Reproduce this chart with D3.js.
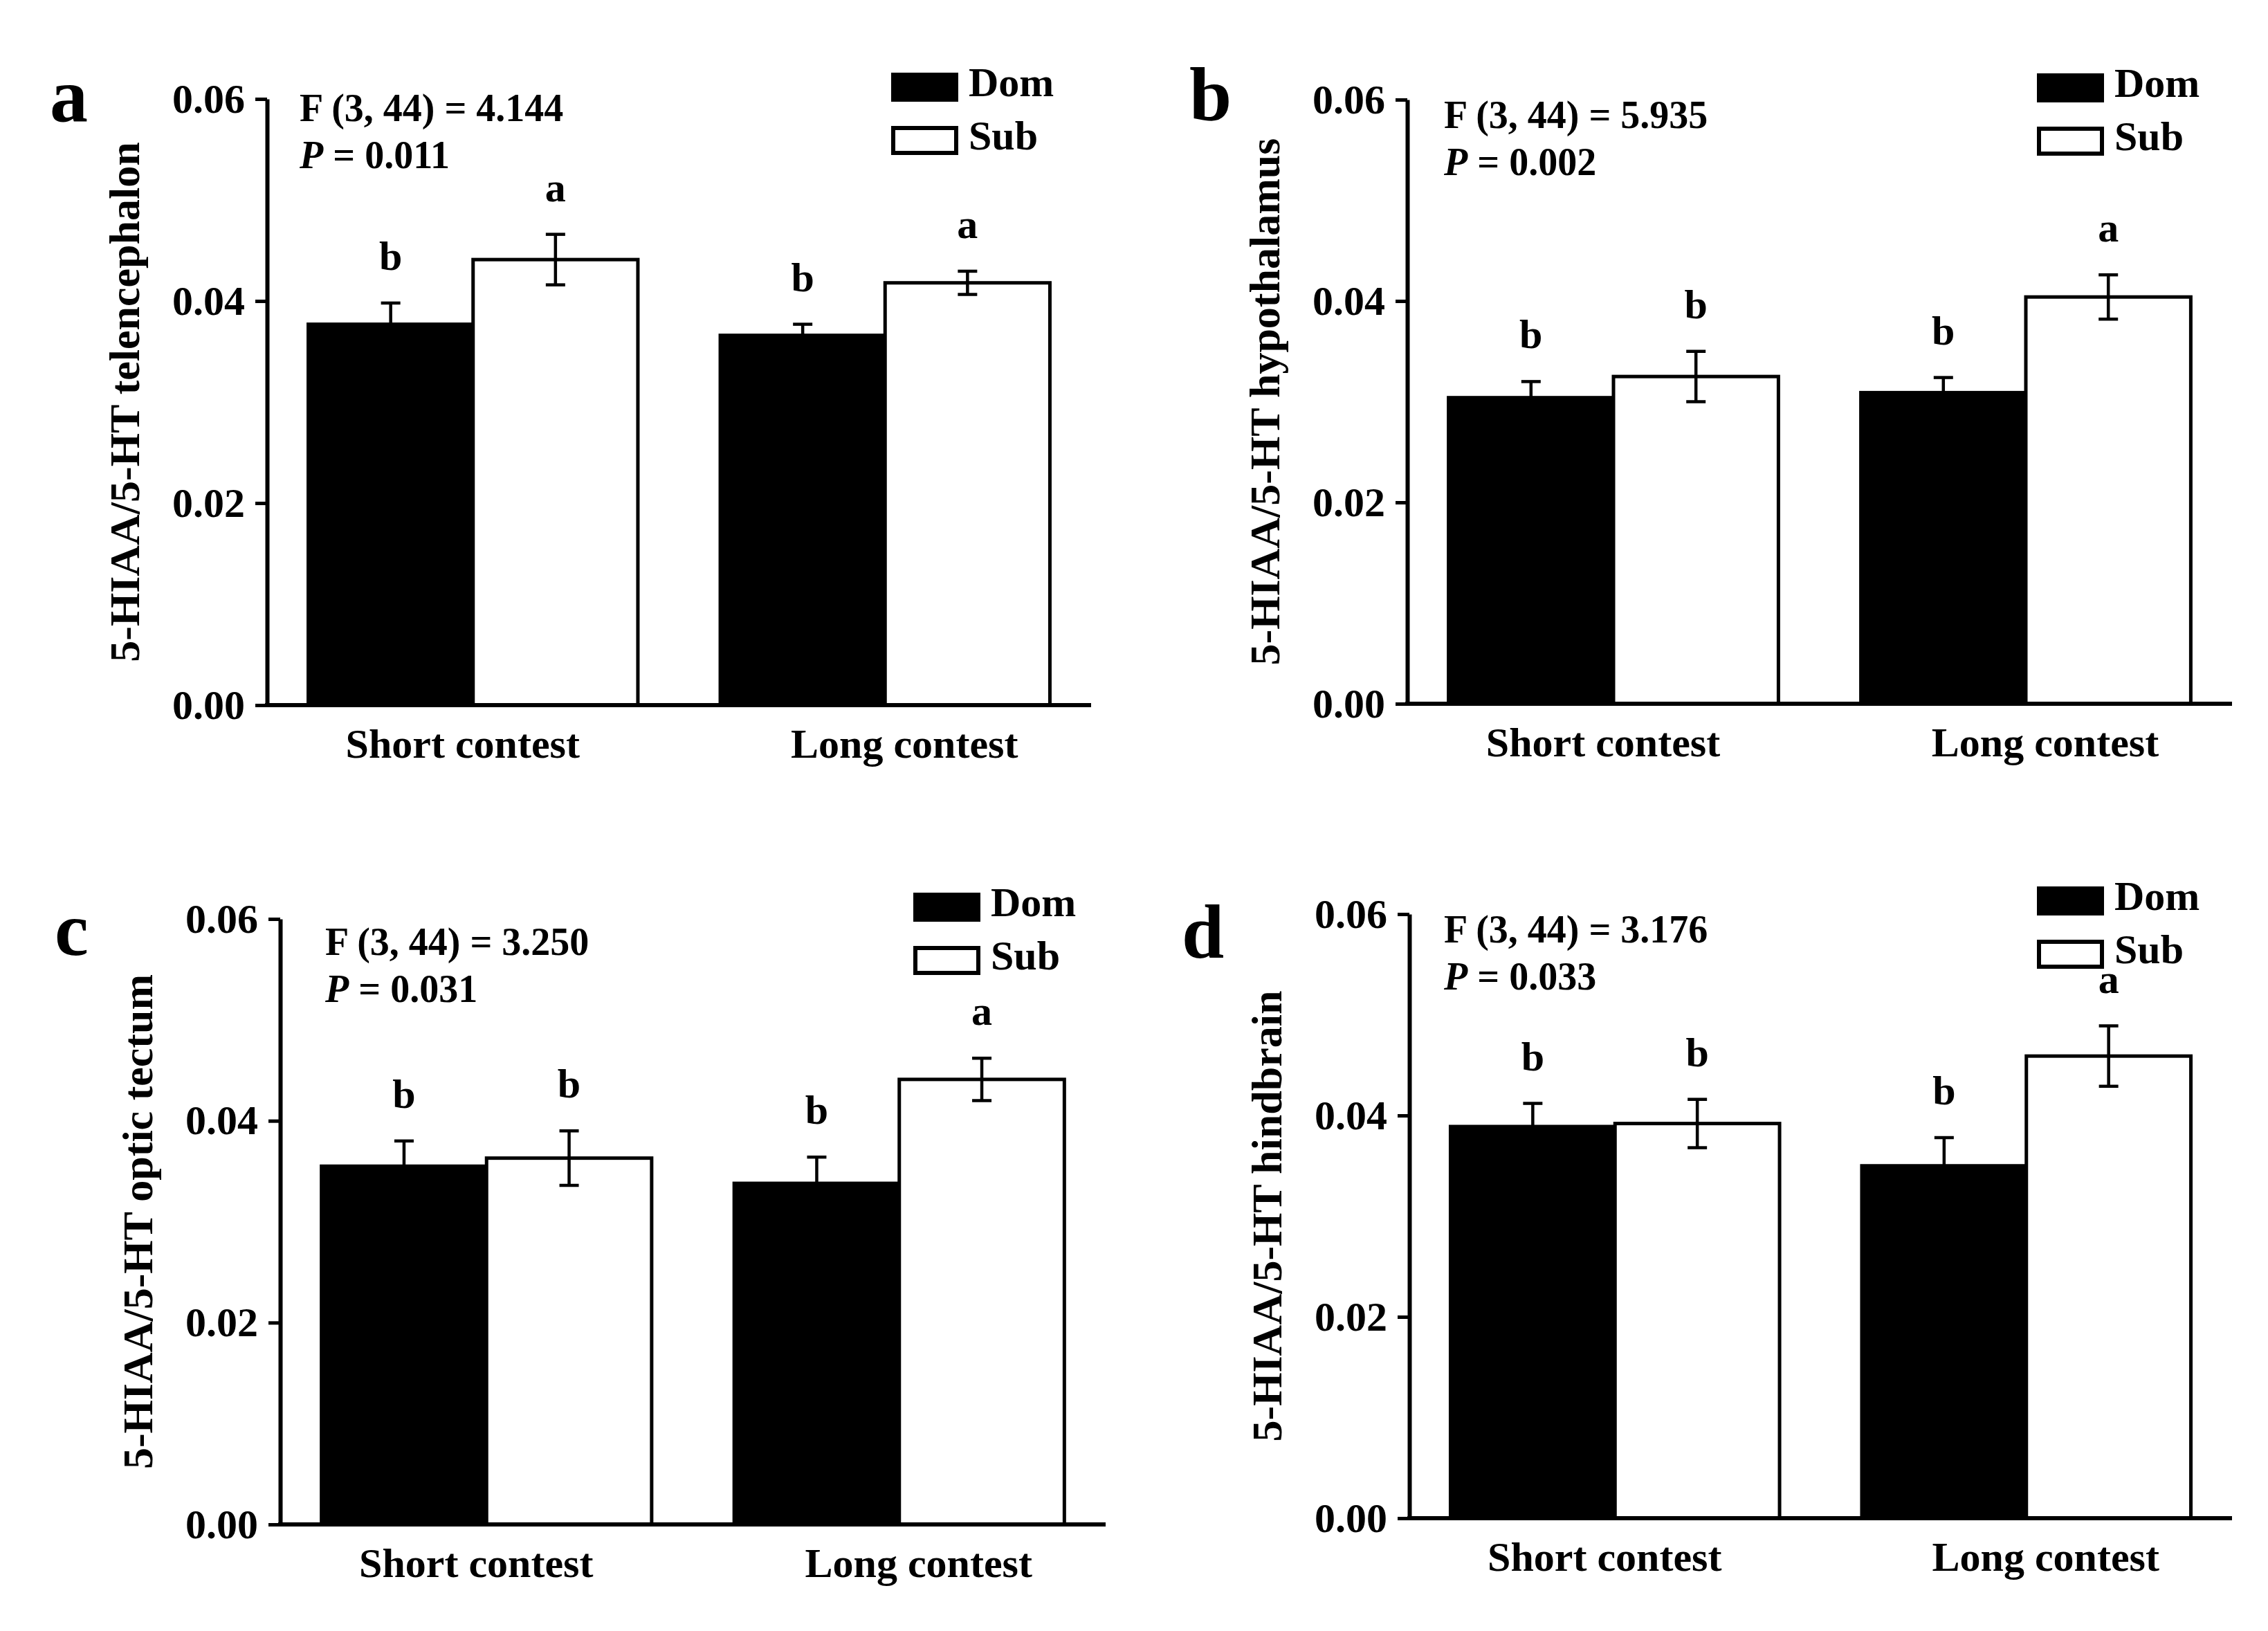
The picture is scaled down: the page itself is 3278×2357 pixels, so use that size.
<!DOCTYPE html>
<html>
<head>
<meta charset="utf-8">
<script src="https://cdn.jsdelivr.net/npm/d3@7"></script>
<style>
  body { margin: 0; background: #fff; }
  text { font-family: "Liberation Serif", "Times New Roman", serif; font-weight: bold; fill: #000; }
</style>
</head>
<body>
<svg id="fig" width="3278" height="2357"></svg>
<script>
// data
let panelIds = ["a", "b", "c", "d"];
let groups = ["Short contest", "Long contest"];
let statuses = ["Dom", "Sub"];
let yTitles = ["5-HIAA/5-HT telencephalon", "5-HIAA/5-HT hypothalamus", "5-HIAA/5-HT optic tectum", "5-HIAA/5-HT hindbrain"];
let fStats = ["4.144", "5.935", "3.250", "3.176"];
let pValues = ["0.011", "0.002", "0.031", "0.033"];
let yTicks = [0, 0.02, 0.04, 0.06];

let domMeans = [[0.0377, 0.0366], [0.0304, 0.0309], [0.0355, 0.0338], [0.0389, 0.0350]];
let subMeans = [[0.0441, 0.0418], [0.0325, 0.0404], [0.0363, 0.0441], [0.0392, 0.0459]];
let domSE = [[0.0021, 0.0011], [0.0016, 0.0015], [0.0025, 0.0026], [0.0023, 0.0028]];
let subSE = [[0.0025, 0.00115], [0.0025, 0.0022], [0.0027, 0.0021], [0.0024, 0.0030]];
let domLetters = [["b", "b"], ["b", "b"], ["b", "b"], ["b", "b"]];
let subLetters = [["a", "a"], ["b", "a"], ["b", "a"], ["b", "a"]];

// where each panel sits on the page
let layout = [
    {x0: 386, x1: 1577, y0: 143, y1: 1019, fx: 433, fy: 175, lx: 1288, ly: 105, px: 72, py: 175},
    {x0: 2034, x1: 3226, y0: 144, y1: 1017, fx: 2087, fy: 185, lx: 2944, ly: 106, px: 1719, py: 174},
    {x0: 405, x1: 1598, y0: 1328, y1: 2203, fx: 470, fy: 1380, lx: 1320, ly: 1290, px: 79, py: 1380},
    {x0: 2037, x1: 3226, y0: 1321, y1: 2194, fx: 2087, fy: 1362, lx: 2944, ly: 1281, px: 1708, py: 1384}
];
let catShift = [-15, 28]; // category labels are not quite centred under their bars

let svg = d3.select("#fig");
svg.append("rect").attr("width", 3278).attr("height", 2357).attr("fill", "white");

panelIds.forEach((id, i) => drawPanel(i));

function drawPanel(i) {
    let L = layout[i];
    let g = svg.append("g");

    let yScale = d3.scaleLinear().domain([0, 0.06]).range([L.y1, L.y0]);
    let xScale = d3.scaleBand().domain(groups).range([L.x0, L.x1]).paddingInner(0.2).paddingOuter(0.1);
    let sScale = d3.scaleBand().domain(statuses).range([0, xScale.bandwidth()]);

    let rows = [];
    groups.forEach((grp, k) => {
        rows.push({grp: grp, st: "Dom", v: domMeans[i][k], se: domSE[i][k], lab: domLetters[i][k]});
        rows.push({grp: grp, st: "Sub", v: subMeans[i][k], se: subSE[i][k], lab: subLetters[i][k]});
    });

    // bars
    g.selectAll("rect.bar").data(rows).enter().append("rect").attr("class", "bar")
        .attr("x", d => xScale(d.grp) + sScale(d.st))
        .attr("y", d => yScale(d.v))
        .attr("width", sScale.bandwidth())
        .attr("height", d => yScale(0) - yScale(d.v))
        .attr("fill", d => d.st === "Dom" ? "black" : "white")
        .attr("stroke", "black").attr("stroke-width", 5);

    // error bars
    let cx = d => xScale(d.grp) + sScale(d.st) + sScale.bandwidth() / 2;
    let err = g.selectAll("g.err").data(rows).enter().append("g").attr("class", "err")
        .attr("stroke", "black").attr("stroke-width", 4.5);
    err.append("line").attr("x1", cx).attr("x2", cx)
        .attr("y1", d => yScale(d.v + d.se)).attr("y2", d => yScale(d.v - d.se));
    err.append("line").attr("x1", d => cx(d) - 14).attr("x2", d => cx(d) + 14)
        .attr("y1", d => yScale(d.v + d.se)).attr("y2", d => yScale(d.v + d.se));
    err.append("line").attr("x1", d => cx(d) - 14).attr("x2", d => cx(d) + 14)
        .attr("y1", d => yScale(d.v - d.se)).attr("y2", d => yScale(d.v - d.se));

    // significance letters
    g.selectAll("text.sig").data(rows).enter().append("text").attr("class", "sig")
        .attr("x", cx).attr("y", d => yScale(d.v + d.se) - 48)
        .attr("text-anchor", "middle").attr("font-size", 60)
        .text(d => d.lab);

    // axes
    let yAxis = g.append("g").attr("transform", "translate(" + L.x0 + ",0)")
        .call(d3.axisLeft(yScale).tickValues(yTicks).tickFormat(d3.format(".2f"))
            .tickSizeInner(17).tickSizeOuter(0).tickPadding(15));
    let xAxis = g.append("g").attr("transform", "translate(0," + L.y1 + ")")
        .call(d3.axisBottom(xScale).tickSize(0).tickPadding(33));
    [yAxis, xAxis].forEach(a => {
        a.select(".domain").attr("stroke-width", 6);
        a.selectAll(".tick line").attr("stroke-width", 5);
        a.selectAll("text").attr("font-size", 60)
            .style("font-family", '"Liberation Serif", "Times New Roman", serif').style("font-weight", "bold");
    });
    xAxis.select(".domain").attr("d", "M" + (L.x0 - 3) + ",0H" + L.x1);
    xAxis.selectAll(".tick text").attr("dx", (d, k) => catShift[k]);

    // y title
    g.append("text").attr("transform", "translate(" + (L.x0 - 185) + "," + (L.y0 + L.y1) / 2 + ") rotate(-90)")
        .attr("text-anchor", "middle").attr("font-size", 62).text(yTitles[i]);

    // stats
    g.append("text").attr("x", L.fx).attr("y", L.fy).attr("font-size", 56)
        .text("F (3, 44) = " + fStats[i]);
    let pt = g.append("text").attr("x", L.fx).attr("y", L.fy + 68).attr("font-size", 56);
    pt.append("tspan").attr("font-style", "italic").text("P");
    pt.append("tspan").text(" = " + pValues[i]);

    // legend
    let leg = g.selectAll("g.leg").data(statuses).enter().append("g").attr("class", "leg")
        .attr("transform", (d, k) => "translate(" + L.lx + "," + (L.ly + k * 77) + ")");
    leg.append("rect").attr("x", 3).attr("y", 3).attr("width", 91).attr("height", 36)
        .attr("fill", d => d === "Dom" ? "black" : "white")
        .attr("stroke", "black").attr("stroke-width", 6);
    leg.append("text").attr("x", 112).attr("y", 34).attr("font-size", 60).text(d => d);

    // panel letter
    g.append("text").attr("x", L.px).attr("y", L.py).attr("font-size", 110).text(panelIds[i]);
}
</script>
</body>
</html>
